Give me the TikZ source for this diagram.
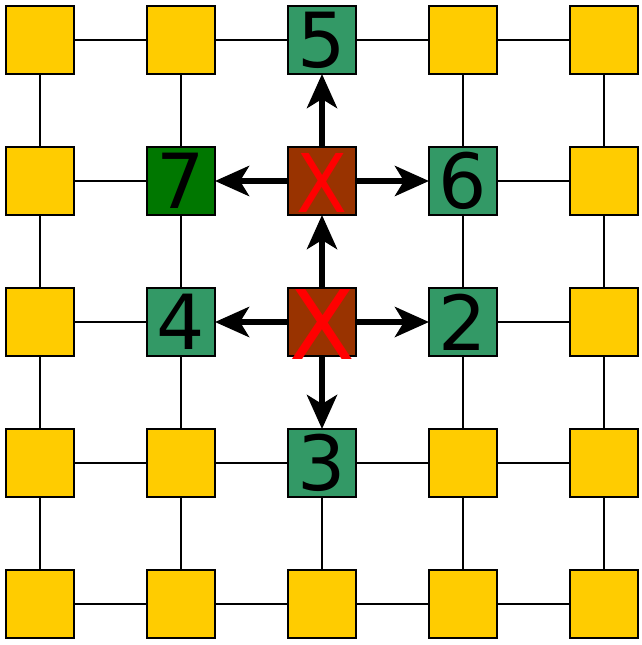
\documentclass[tikz,border=0pt]{standalone}
\usepackage{fontspec}
\setmainfont{DejaVu Sans}
\usetikzlibrary{arrows.meta}
\definecolor{cellyellow}{RGB}{255,204,0}
\definecolor{cellteal}{RGB}{51,153,102}
\definecolor{celldark}{RGB}{0,119,0}
\definecolor{cellbrown}{RGB}{153,51,0}
\definecolor{crossred}{RGB}{255,0,0}
\begin{document}
\begin{tikzpicture}[x=1pt,y=-1pt,
  cell/.style={draw=black,line width=2.5pt,minimum size=68pt,inner sep=0pt,outer sep=0pt,fill=cellyellow},
  numcell/.style={cell,fill=cellteal},
  digit/.style={inner sep=0pt,font=\fontsize{76}{76}\selectfont},
  cross/.style={inner sep=0pt,text=crossred},
  link/.style={line width=2pt},
  push/.style={line width=6pt,-{Stealth[length=34pt,width=30pt,inset=9pt]}}]
\useasboundingbox (0,0) rectangle (642,645);
% plain lattice links (those replaced by arrows are left out)
\foreach \j in {0,3,4}{
  \foreach \i [evaluate=\i as \k using int(\i+1)] in {0,1,2,3}{
    \draw[link] (40+141*\i,40+141*\j) -- (40+141*\k,40+141*\j);}}
\foreach \j in {1,2}{
  \foreach \i [evaluate=\i as \k using int(\i+1)] in {0,3}{
    \draw[link] (40+141*\i,40+141*\j) -- (40+141*\k,40+141*\j);}}
\foreach \i in {0,1,3,4}{
  \foreach \j [evaluate=\j as \k using int(\j+1)] in {0,1,2,3}{
    \draw[link] (40+141*\i,40+141*\j) -- (40+141*\i,40+141*\k);}}
\draw[link] (40+141*2,40+141*3) -- (40+141*2,40+141*4);
% cells
\foreach \i in {0,...,4}{
  \foreach \j in {0,...,4}{
    \node[cell] (n-\i-\j) at (40+141*\i,40+141*\j) {};}}
\node[numcell] (n-2-0) at (322,40) {};
\node[numcell,fill=celldark] (n-1-1) at (181,181) {};
\node[numcell,fill=cellbrown] (n-2-1) at (322,181) {};
\node[numcell] (n-3-1) at (463,181) {};
\node[numcell] (n-1-2) at (181,322) {};
\node[numcell,fill=cellbrown] (n-2-2) at (322,322) {};
\node[numcell] (n-3-2) at (463,322) {};
\node[numcell] (n-2-3) at (322,463) {};
% labels
\node[digit] (t5) at (n-2-0) {5};
\node[digit] (t7) at (n-1-1) {7};
\node[digit] (t6) at (n-3-1) {6};
\node[digit] (t4) at (n-1-2) {4};
\node[digit] (t2) at (n-3-2) {2};
\node[digit] (t3) at (n-2-3) {3};
\node[cross,font=\fontsize{81}{81}\selectfont,xscale=0.92] (x1) at ([yshift=-1.5pt]n-2-1) {X};
\node[cross,font=\fontsize{96}{96}\selectfont] (x2) at ([yshift=-3pt]n-2-2) {X};
% moves
\draw[push] (n-2-2) -- (n-1-2);
\draw[push] (n-2-2) -- (n-3-2);
\draw[push] (n-2-2) -- (n-2-3);
\draw[push] (n-2-2) -- (n-2-1);
\draw[push] (n-2-1) -- (n-1-1);
\draw[push] (n-2-1) -- (n-3-1);
\draw[push] (n-2-1) -- (n-2-0);
\end{tikzpicture}
\end{document}
